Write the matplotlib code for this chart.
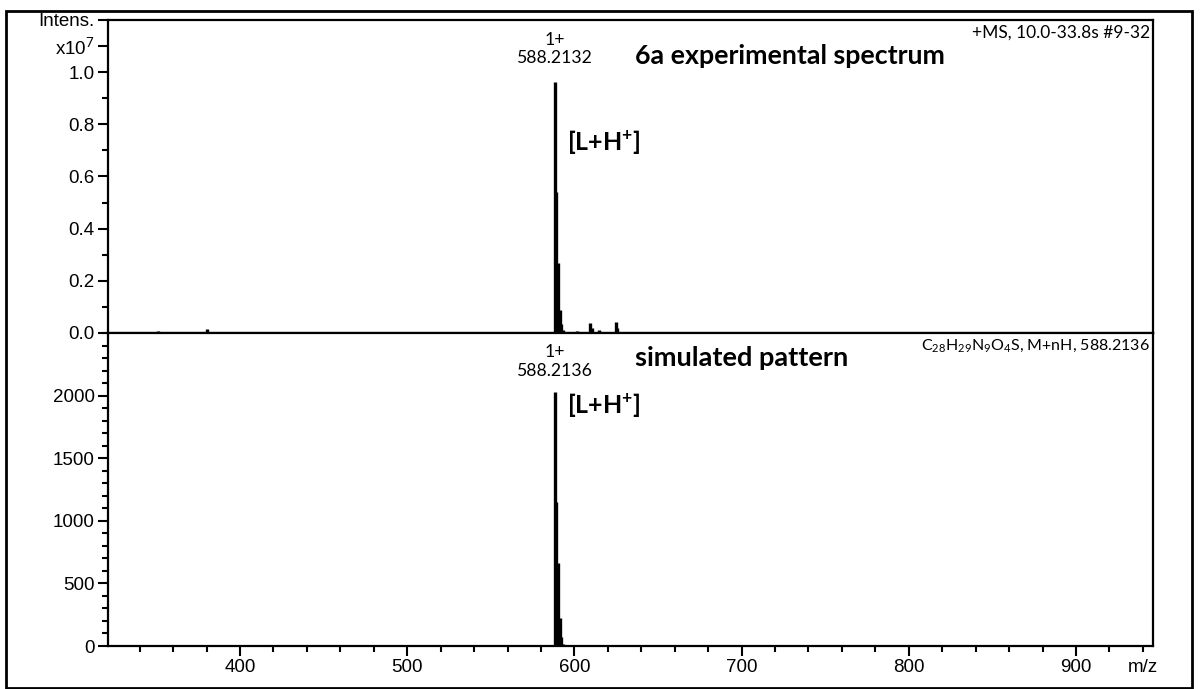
import matplotlib

matplotlib.use("Agg")
import matplotlib.pyplot as plt
from matplotlib.patches import Rectangle
from matplotlib.ticker import MultipleLocator

plt.rcParams["font.family"] = ["Liberation Sans", "DejaVu Sans"]
plt.rcParams["mathtext.fontset"] = "custom"
plt.rcParams["mathtext.rm"] = "Lato"
plt.rcParams["mathtext.bf"] = "Lato:bold"

# experimental spectrum, intensity in units of 1e7
exp_mz = [351.0, 380.2, 588.2132, 589.22, 590.22, 591.22, 592.22, 593.2,
          601.5, 606.0, 609.3, 610.3, 615.0, 624.7, 625.7, 902.0, 908.0]
exp_int = [0.006, 0.014, 0.962, 0.540, 0.268, 0.088, 0.035, 0.012,
           0.008, 0.005, 0.038, 0.020, 0.010, 0.042, 0.018, 0.004, 0.004]

# simulated isotope pattern
sim_mz = [588.2136, 589.22, 590.22, 591.22, 592.22, 593.22]
sim_int = [2025, 1147, 666, 225, 70, 20]

exp_label = "588.2132"
sim_label = "588.2136"
exp_title = "6a experimental spectrum"
sim_title = "simulated pattern"
exp_info = "+MS, 10.0-33.8s #9-32"
sim_info = r"C$_{28}$H$_{29}$N$_{9}$O$_{4}$S, M+nH, 588.2136"

fig = plt.figure(figsize=(12.01, 6.89), dpi=100)
ax_top = fig.add_axes([0.0899, 0.5167, 0.870, 0.4543])
ax_bot = fig.add_axes([0.0899, 0.0624, 0.870, 0.4543], sharex=ax_top)

fig.add_artist(Rectangle((6 / 1201, 0.002), 1186 / 1201, 1 - 11 / 689 - 0.002,
                         transform=fig.transFigure, fill=False, lw=2.0, color="black"))

ax_top.vlines(exp_mz, 0, exp_int, color="black", lw=2.4)
ax_bot.vlines(sim_mz, 0, sim_int, color="black", lw=2.4)

ax_top.set_xlim(321, 946)
ax_top.set_ylim(0, 1.2)
ax_bot.set_ylim(0, 2500)

tick_size = 13.5
for ax in (ax_top, ax_bot):
    for sp in ax.spines.values():
        sp.set_linewidth(1.6)
    ax.tick_params(axis="both", which="major", direction="out", length=7, width=1.5,
                   labelsize=tick_size, colors="black", pad=2.5)
    ax.tick_params(axis="both", which="minor", direction="out", length=4, width=1.5)

ax_top.set_yticks([0.0, 0.2, 0.4, 0.6, 0.8, 1.0, 1.1, 1.2])
ax_top.set_yticklabels(["0.0", "0.2", "0.4", "0.6", "0.8", "1.0", "x10$^{7}$", "Intens."],
                       fontsize=tick_size)
ax_top.yaxis.set_minor_locator(MultipleLocator(0.1))
ax_top.tick_params(axis="x", which="both", bottom=False, labelbottom=False)

ax_bot.set_yticks([0, 500, 1000, 1500, 2000])
ax_bot.yaxis.set_minor_locator(MultipleLocator(100))
ax_bot.set_xticks([400, 500, 600, 700, 800, 900])
ax_bot.xaxis.set_minor_locator(MultipleLocator(20))
ax_bot.text(940, -0.04, "m/z", transform=ax_bot.get_xaxis_transform(),
            ha="center", va="top", fontsize=tick_size)

ann = dict(family=["Lato", "DejaVu Sans"], color="black")

# experimental panel labels
ax_top.text(exp_mz[2], 1.123, "1+", ha="center", va="center", fontsize=12.7, **ann)
ax_top.text(exp_mz[2], 1.054, exp_label, ha="center", va="center", fontsize=12.7, **ann)
ax_top.text(636.5, 1.06, exp_title, ha="left", va="center", fontsize=19.3,
            fontweight="bold", **ann)
ax_top.text(595.5, 0.728, r"[L+H$^{\mathbf{+}}$]", ha="left", va="center", fontsize=18,
            fontweight="bold", **ann)
ax_top.text(0.997, 0.985, exp_info, transform=ax_top.transAxes, ha="right", va="top",
            fontsize=12.5, **ann)

# simulated panel labels
ax_bot.text(sim_mz[0], 2350, "1+", ha="center", va="center", fontsize=12.7, **ann)
ax_bot.text(sim_mz[0], 2197, sim_label, ha="center", va="center", fontsize=12.7, **ann)
ax_bot.text(636.5, 2300, sim_title, ha="left", va="center", fontsize=19.5,
            fontweight="bold", **ann)
ax_bot.text(595.5, 1917, r"[L+H$^{\mathbf{+}}$]", ha="left", va="center", fontsize=18,
            fontweight="bold", **ann)
ax_bot.text(0.997, 0.985, sim_info, transform=ax_bot.transAxes, ha="right", va="top",
            fontsize=11.5, **ann)

fig.savefig("out.png", dpi=100)
plt.close(fig)
